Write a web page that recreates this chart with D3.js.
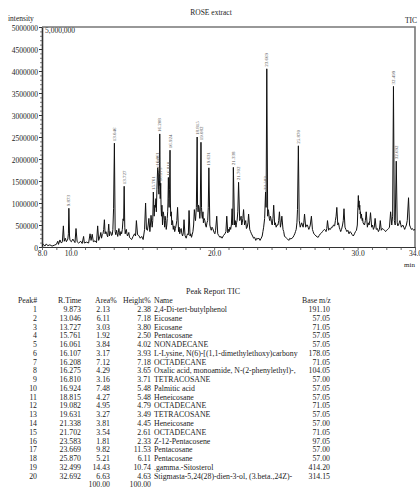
<!DOCTYPE html>
<html>
<head>
<meta charset="utf-8">
<script src="https://cdn.jsdelivr.net/npm/d3@7/dist/d3.min.js"></script>
<style>
  html, body { margin: 0; padding: 0; background: #fff; }
  svg { display: block; }
  text { font-family: "Liberation Serif", "Times New Roman", serif; fill: #222; }
</style>
</head>
<body>
<svg id="chart" width="420" height="490"></svg>
<script>
// Peak report (TIC)
const peakNo = [1,2,3,4,5,6,7,8,9,10,11,12,13,14,15,16,17,18,19,20];
const rTimes = [9.873,13.046,13.727,15.761,16.061,16.107,16.208,16.275,16.810,16.924,
                18.815,19.082,19.631,21.338,21.702,23.583,23.669,25.870,32.499,32.692];
const areaPct = ["2.13","6.11","3.03","1.92","3.84","3.17","7.12","4.29","3.16","7.48",
                 "4.27","4.95","3.27","3.81","3.54","1.81","9.82","5.21","14.43","6.63"];
const heightPct = ["2.38","7.18","3.80","2.50","4.02","3.93","7.18","3.65","3.71","5.48",
                   "5.48","4.79","3.49","4.45","2.61","2.33","11.53","6.11","10.74","4.63"];
const names = ["2,4-Di-tert-butylphenol","Eicosane","Eicosane","Pentacosane","NONADECANE",
  "L-Lysine, N(6)-[(1,1-dimethylethoxy)carbony","OCTADECANE","Oxalic acid, monoamide, N-(2-phenylethyl)-,",
  "TETRACOSANE","Palmitic acid","Heneicosane","OCTADECANE","TETRACOSANE","Heneicosane","OCTADECANE",
  "Z-12-Pentacosene","Pentacosane","Pentacosane",".gamma.-Sitosterol","Stigmasta-5,24(28)-dien-3-ol, (3.beta.,24Z)-"];
const baseMz = ["191.10","57.05","71.05","57.05","57.05","178.05","71.05","104.05","57.00","57.05",
                "57.05","71.05","57.05","57.00","71.05","97.05","57.00","57.00","414.20","314.15"];
const totals = ["100.00","100.00"];

// Apex intensity of each reported peak (same order as rTimes)
const peakApex = [880000,2360000,1380000,1250000,1800000,1700000,2570000,1450000,1580000,2200000,
                  2500000,2380000,1800000,1810000,1470000,1250000,4050000,2300000,3650000,1950000];

// Background trace between the reported peaks: [retention time (min), intensity]
const traceSamples = [
  [8.00,30000],[8.10,60000],[8.20,20000],[8.30,70000],[8.40,30000],[8.55,50000],[8.70,20000],[8.85,40000],
  [9.00,60000],[9.10,130000],[9.15,60000],[9.25,160000],[9.35,90000],[9.42,120000],[9.49,480000],[9.55,130000],
  [9.62,200000],[9.70,120000],[9.80,180000],[9.84,300000],[9.92,250000],[9.95,150000],[10.05,120000],[10.15,180000],
  [10.30,100000],[10.37,420000],[10.45,120000],[10.55,90000],[10.70,130000],[10.80,80000],[10.90,240000],[10.95,90000],
  [11.10,110000],[11.25,90000],[11.35,300000],[11.42,150000],[11.50,290000],[11.58,120000],[11.70,140000],[11.80,100000],
  [11.88,480000],[11.95,150000],[12.05,250000],[12.10,330000],[12.15,200000],[12.20,280000],[12.25,300000],[12.30,400000],
  [12.35,620000],[12.40,300000],[12.45,350000],[12.50,320000],[12.55,250000],[12.58,230000],[12.62,380000],[12.65,520000],
  [12.70,250000],[12.75,350000],[12.80,330000],[12.85,260000],[12.90,280000],[12.94,400000],[12.99,880000],[13.10,350000],
  [13.14,280000],[13.20,380000],[13.24,300000],[13.28,240000],[13.32,330000],[13.36,420000],[13.40,300000],[13.45,260000],
  [13.50,350000],[13.55,300000],[13.60,400000],[13.65,640000],[13.69,600000],[13.77,450000],[13.80,300000],[13.84,380000],
  [13.88,400000],[13.92,300000],[13.96,250000],[14.05,330000],[14.10,220000],[14.15,200000],[14.25,170000],[14.35,240000],
  [14.45,300000],[14.52,250000],[14.58,600000],[14.66,280000],[14.75,260000],[14.85,200000],[14.95,240000],[15.05,170000],
  [15.15,400000],[15.22,1000000],[15.28,400000],[15.35,380000],[15.40,500000],[15.45,650000],[15.52,350000],[15.56,500000],
  [15.60,720000],[15.68,450000],[15.72,600000],[15.82,700000],[15.86,950000],[15.90,900000],[15.94,1100000],[15.97,800000],
  [16.01,1300000],[16.13,1300000],[16.15,1200000],[16.17,1500000],[16.19,1400000],[16.24,1100000],[16.30,900000],[16.33,700000],
  [16.36,950000],[16.40,500000],[16.44,800000],[16.48,750000],[16.52,600000],[16.55,450000],[16.58,700000],[16.62,600000],
  [16.66,400000],[16.70,500000],[16.73,650000],[16.76,800000],[16.78,1000000],[16.84,1100000],[16.86,900000],[16.89,1300000],
  [16.95,1000000],[16.98,700000],[17.01,800000],[17.05,500000],[17.10,600000],[17.15,400000],[17.20,480000],[17.25,350000],
  [17.30,420000],[17.35,500000],[17.40,600000],[17.45,900000],[17.52,350000],[17.56,450000],[17.60,300000],[17.65,380000],
  [17.70,420000],[17.75,300000],[17.80,250000],[17.85,320000],[17.90,620000],[17.97,260000],[18.05,200000],[18.10,260000],
  [18.15,300000],[18.20,280000],[18.25,830000],[18.32,250000],[18.37,300000],[18.42,220000],[18.47,280000],[18.52,350000],
  [18.57,500000],[18.62,850000],[18.66,700000],[18.70,600000],[18.73,750000],[18.76,900000],[18.84,1000000],[18.88,800000],
  [18.91,950000],[18.95,900000],[18.98,750000],[19.00,650000],[19.03,800000],[19.12,900000],[19.15,700000],[19.18,650000],
  [19.22,800000],[19.25,550000],[19.30,650000],[19.35,600000],[19.40,500000],[19.45,450000],[19.50,550000],[19.55,600000],
  [19.59,900000],[19.70,500000],[19.75,420000],[19.80,380000],[19.85,450000],[19.90,420000],[20.00,330000],[20.05,300000],
  [20.10,380000],[20.18,700000],[20.25,300000],[20.32,260000],[20.40,220000],[20.48,240000],[20.55,200000],[20.65,260000],
  [20.75,300000],[20.82,350000],[20.88,700000],[20.95,320000],[21.00,400000],[21.05,350000],[21.10,450000],[21.15,400000],
  [21.20,500000],[21.25,870000],[21.30,500000],[21.42,500000],[21.47,600000],[21.52,450000],[21.56,550000],[21.60,600000],
  [21.65,800000],[21.78,600000],[21.84,650000],[21.88,700000],[21.92,500000],[21.96,550000],[22.00,650000],[22.05,850000],
  [22.12,500000],[22.16,550000],[22.20,600000],[22.25,420000],[22.30,450000],[22.36,550000],[22.40,750000],[22.48,400000],
  [22.54,350000],[22.60,300000],[22.68,250000],[22.75,200000],[22.82,220000],[22.90,150000],[22.98,200000],[23.05,180000],
  [23.12,200000],[23.20,150000],[23.28,200000],[23.35,250000],[23.40,350000],[23.45,450000],[23.52,650000],[23.62,900000],
  [23.73,700000],[23.76,850000],[23.80,800000],[23.84,650000],[23.88,600000],[23.92,700000],[23.96,650000],[24.00,550000],
  [24.05,500000],[24.10,650000],[24.15,950000],[24.22,500000],[24.27,550000],[24.32,450000],[24.38,500000],[24.45,500000],
  [24.50,600000],[24.55,800000],[24.62,450000],[24.67,550000],[24.72,700000],[24.80,400000],[24.85,350000],[24.90,250000],
  [24.97,220000],[25.05,200000],[25.12,180000],[25.20,150000],[25.28,200000],[25.35,180000],[25.42,200000],[25.50,220000],
  [25.56,260000],[25.62,300000],[25.67,350000],[25.72,400000],[25.77,550000],[25.81,850000],[25.93,600000],[26.00,450000],
  [26.05,500000],[26.10,550000],[26.15,500000],[26.20,450000],[26.25,550000],[26.30,750000],[26.38,450000],[26.44,500000],
  [26.50,500000],[26.55,450000],[26.60,400000],[26.66,450000],[26.70,500000],[26.78,700000],[26.85,400000],[26.90,350000],
  [26.95,300000],[27.02,280000],[27.10,250000],[27.18,230000],[27.25,220000],[27.32,260000],[27.40,300000],[27.48,320000],
  [27.55,350000],[27.62,380000],[27.70,400000],[27.75,380000],[27.80,350000],[27.85,420000],[27.90,600000],[27.98,380000],
  [28.04,420000],[28.10,400000],[28.18,450000],[28.25,450000],[28.32,500000],[28.40,480000],[28.45,600000],[28.50,700000],
  [28.55,900000],[28.62,500000],[28.67,550000],[28.72,450000],[28.77,400000],[28.82,350000],[28.88,400000],[28.95,500000],
  [29.00,600000],[29.05,870000],[29.12,450000],[29.18,400000],[29.25,350000],[29.32,380000],[29.40,300000],[29.48,350000],
  [29.55,320000],[29.62,280000],[29.70,250000],[29.78,300000],[29.85,350000],[29.92,380000],[29.98,500000],[30.02,900000],
  [30.05,1170000],[30.08,900000],[30.10,1050000],[30.12,850000],[30.15,950000],[30.18,750000],[30.20,800000],[30.23,650000],
  [30.26,750000],[30.28,700000],[30.32,600000],[30.35,650000],[30.38,550000],[30.43,520000],[30.48,500000],[30.54,600000],
  [30.60,800000],[30.68,450000],[30.74,550000],[30.80,500000],[30.85,600000],[30.90,780000],[30.98,450000],[31.04,500000],
  [31.10,400000],[31.16,450000],[31.22,650000],[31.30,400000],[31.38,420000],[31.45,350000],[31.52,400000],[31.58,600000],
  [31.65,380000],[31.72,420000],[31.80,400000],[31.88,380000],[31.95,350000],[32.02,380000],[32.10,400000],[32.16,420000],
  [32.22,450000],[32.30,800000],[32.38,500000],[32.44,700000],[32.56,600000],[32.62,500000],[32.76,550000],[32.80,480000],
  [32.85,500000],[32.90,550000],[32.95,600000],[33.00,520000],[33.05,450000],[33.10,480000],[33.15,500000],[33.22,450000],
  [33.28,400000],[33.34,450000],[33.40,500000],[33.46,600000],[33.55,1120000],[33.62,500000],[33.68,450000],[33.75,400000],
  [33.82,420000],[33.90,380000],[34.00,400000]
];

// Axis ticks
const yMajorTicks = [0,500000,1000000,1500000,2000000,2500000,3000000,3500000,4000000,4500000,5000000];
const yMinorTicks = d3.range(0, 5000001, 100000);
const xMinorTicks = d3.range(8, 35, 1);
const xLabelTicks = [8, 10, 20, 30, 34];

const svg = d3.select("#chart");
const x = d3.scaleLinear().domain([8, 34]).range([42, 415]);
const y = d3.scaleLinear().domain([0, 5000000]).range([247, 27]);

// Combined chromatogram: background trace plus reported peak apexes
const trace = traceSamples.map(([t, v]) => ({t, v}))
  .concat(rTimes.map((t, i) => ({t, v: peakApex[i]})))
  .sort((a, b) => a.t - b.t);

// Title and corner texts
svg.append("text").attr("x", 211).attr("y", 15).attr("text-anchor", "middle")
  .style("font-size", "7.5px").text("ROSE extract");
svg.append("text").attr("x", 417).attr("y", 23).attr("text-anchor", "end")
  .style("font-size", "7.5px").text("TIC");
svg.append("text").attr("x", 8).attr("y", 21)
  .style("font-size", "7.5px").text("intensity");
svg.append("text").attr("x", 45).attr("y", 33)
  .style("font-size", "7.5px").text("5,000,000");

// Frame (top and right)
svg.append("path")
  .attr("d", `M${x(8)},${y(5000000)}H${x(34)}V${y(0)}`)
  .attr("fill", "none").attr("stroke", "#777").attr("stroke-width", 1.6);

// Y axis: minor then major ticks with labels
svg.append("g").attr("transform", `translate(${x(8)},0)`)
  .call(d3.axisLeft(y).tickValues(yMinorTicks).tickSize(2).tickFormat(""))
  .call(g => g.select(".domain").remove())
  .call(g => g.selectAll("line").attr("stroke", "#444").attr("stroke-width", 0.7));
svg.append("g").attr("transform", `translate(${x(8)},0)`)
  .call(d3.axisLeft(y).tickValues(yMajorTicks).tickSize(3).tickSizeOuter(0).tickPadding(1).tickFormat(d3.format("d")))
  .call(g => g.select(".domain").attr("stroke", "#333").attr("stroke-width", 1.6))
  .call(g => g.selectAll("line").attr("stroke", "#333"))
  .call(g => g.selectAll("text").attr("dy", "0.5em").style("font-size", "7.5px").style("font-family", "Liberation Serif"));

// X axis
svg.append("g").attr("transform", `translate(0,${y(0)})`)
  .call(d3.axisBottom(x).tickValues(xMinorTicks).tickSize(3).tickSizeOuter(0).tickFormat(""))
  .call(g => g.select(".domain").attr("stroke", "#333").attr("stroke-width", 1.2))
  .call(g => g.selectAll("line").attr("stroke", "#444").attr("stroke-width", 0.8));
svg.append("g").attr("transform", `translate(0,${y(0)})`)
  .call(d3.axisBottom(x).tickValues(xLabelTicks).tickSize(0).tickPadding(4).tickFormat(d3.format(".1f")))
  .call(g => g.select(".domain").remove())
  .call(g => g.selectAll("text").style("font-size", "7.5px").style("font-family", "Liberation Serif"));
svg.append("text").attr("x", 415).attr("y", 267).attr("text-anchor", "end")
  .style("font-size", "7px").text("min");

// Chromatogram line
const line = d3.line().x(d => x(d.t)).y(d => y(d.v));
svg.append("path").datum(trace)
  .attr("d", line).attr("fill", "none")
  .attr("stroke", "#111").attr("stroke-width", 1).attr("stroke-linejoin", "round");

// Retention time labels above peaks
svg.append("g").selectAll("text").data(rTimes).join("text")
  .attr("transform", (t, i) => `translate(${x(t) + 1.6},${y(peakApex[i]) - 2}) rotate(-90)`)
  .style("font-size", "5px").style("fill", "#555")
  .text(t => t.toFixed(3));

// Peak report table
const rowY = d3.scaleLinear().domain([0, 1]).range([312, 320.77]);
svg.append("text").attr("x", 213).attr("y", 294).attr("text-anchor", "middle")
  .style("font-size", "8px").text("Peak Report TIC");

const cols = [
  {h: "Peak#", hx: 18, vx: 37, anchor: "end", v: i => String(peakNo[i])},
  {h: "R.Time", hx: 58, vx: 81, anchor: "end", v: i => rTimes[i].toFixed(3)},
  {h: "Area%", hx: 95, vx: 110, anchor: "end", v: i => areaPct[i]},
  {h: "Height%", hx: 123, vx: 151, anchor: "end", v: i => heightPct[i]},
  {h: "Name", hx: 154, vx: 154, anchor: "start", v: i => names[i]},
  {h: "Base m/z", hx: 302, vx: 330, anchor: "end", v: i => baseMz[i]}
];
const table = svg.append("g").style("font-size", "7.8px");
cols.forEach(c => {
  table.append("text").attr("x", c.hx).attr("y", rowY(-1)).text(c.h);
  table.append("g").selectAll("text").data(peakNo).join("text")
    .attr("x", c.vx).attr("y", (d, i) => rowY(i))
    .attr("text-anchor", c.anchor).text((d, i) => c.v(i));
});
table.append("text").attr("x", 110).attr("y", rowY(20)).attr("text-anchor", "end").text(totals[0]);
table.append("text").attr("x", 151).attr("y", rowY(20)).attr("text-anchor", "end").text(totals[1]);
</script>
</body>
</html>
